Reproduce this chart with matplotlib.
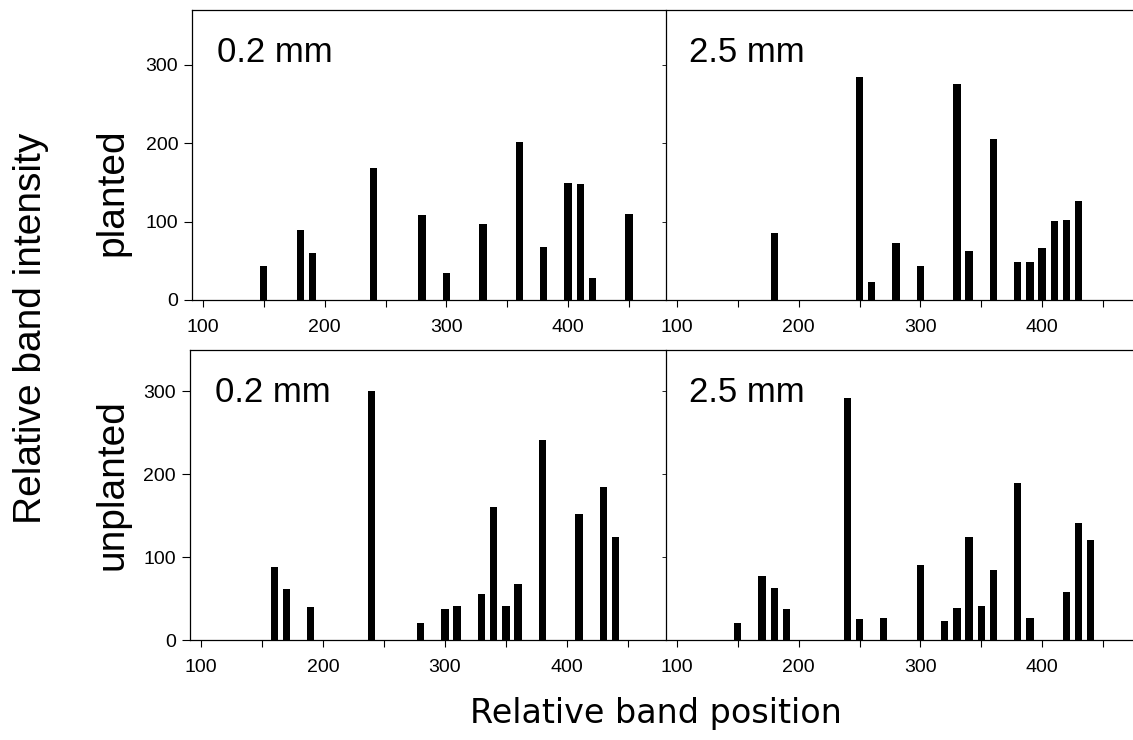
import matplotlib
matplotlib.use("Agg")
import matplotlib.pyplot as plt
from matplotlib.ticker import MultipleLocator

plt.rcParams['font.family'] = ['Liberation Sans', 'DejaVu Sans']

# -----------------------------
# DATA (band position, intensity)
# -----------------------------
pos_planted_02 = [150, 180, 190, 240, 280, 300, 330, 360, 380, 400, 410, 420, 450]
int_planted_02 = [43, 89, 60, 168, 109, 35, 97, 202, 68, 149, 148, 28, 110]

pos_planted_25 = [180, 250, 260, 280, 300, 330, 340, 360, 380, 390, 400, 410, 420, 430]
int_planted_25 = [86, 285, 23, 73, 43, 276, 62, 206, 48, 48, 66, 101, 102, 126]

pos_unplanted_02 = [160, 170, 190, 240, 280, 300, 310, 330, 340, 350, 360, 380, 410, 430, 440]
int_unplanted_02 = [88, 62, 40, 300, 21, 38, 41, 56, 160, 41, 68, 242, 152, 185, 124]

pos_unplanted_25 = [150, 170, 180, 190, 240, 250, 270, 300, 320, 330, 340, 350, 360, 380, 390, 420, 430, 440]
int_unplanted_25 = [21, 77, 63, 38, 292, 25, 27, 91, 23, 39, 124, 41, 85, 190, 27, 58, 141, 121]

panel_titles = ["0.2 mm", "2.5 mm", "0.2 mm", "2.5 mm"]
row_labels = ["planted", "unplanted"]

BAR_W = 6

fig = plt.figure(figsize=(11.33, 7.40), dpi=100)

# axes rectangles in figure fraction
ax_tl = fig.add_axes([0.1695, 0.5946, 0.4175, 0.3919])
ax_tr = fig.add_axes([0.5878, 0.5946, 0.4122, 0.3919])
ax_bl = fig.add_axes([0.1677, 0.1351, 0.4193, 0.3919])
ax_br = fig.add_axes([0.5878, 0.1351, 0.4122, 0.3919])

panels = [
    (ax_tl, pos_planted_02, int_planted_02, 370, (91, 479.7), True),
    (ax_tr, pos_planted_25, int_planted_25, 370, (91, 474.7), False),
    (ax_bl, pos_unplanted_02, int_unplanted_02, 350, (91, 480.5), True),
    (ax_br, pos_unplanted_25, int_unplanted_25, 350, (91, 474.7), False),
]

for (ax, xs, ys, ytop, xlim, is_left), title in zip(panels, panel_titles):
    ax.bar(xs, ys, width=BAR_W, color="black", edgecolor="black", linewidth=0)
    ax.set_xlim(*xlim)
    ax.set_ylim(0, ytop)
    ax.xaxis.set_major_locator(MultipleLocator(100))
    ax.xaxis.set_minor_locator(MultipleLocator(50))
    ax.yaxis.set_major_locator(MultipleLocator(100))
    ax.tick_params(axis='x', which='both', direction='out', length=5, width=0.8,
                   labelsize=14, pad=9)
    for sp in ax.spines.values():
        sp.set_linewidth(0.9)
    if is_left:
        ax.tick_params(axis='y', direction='out', length=6, width=0.8, labelsize=14, pad=4)
        ax.spines['right'].set_visible(False)
    else:
        ax.tick_params(axis='y', direction='out', length=3, width=0.6, labelleft=False)
        ax.spines['right'].set_visible(False)
    ax.text(0.052 if is_left else 0.05, 0.82, title, transform=ax.transAxes,
            fontsize=25, va='baseline', ha='left')

# row labels
fig.text(0.099, 0.74, row_labels[0], rotation=90, fontsize=28, ha='center', va='center')
fig.text(0.099, 0.345, row_labels[1], rotation=90, fontsize=28, ha='center', va='center')

# axis titles
fig.text(0.027, 0.557, "Relative band intensity", rotation=90, fontsize=28,
         ha='center', va='center')
fig.text(0.579, 0.036, "Relative band position", fontsize=24, family='DejaVu Sans',
         ha='center', va='center')

fig.savefig("out.png", dpi=100)
